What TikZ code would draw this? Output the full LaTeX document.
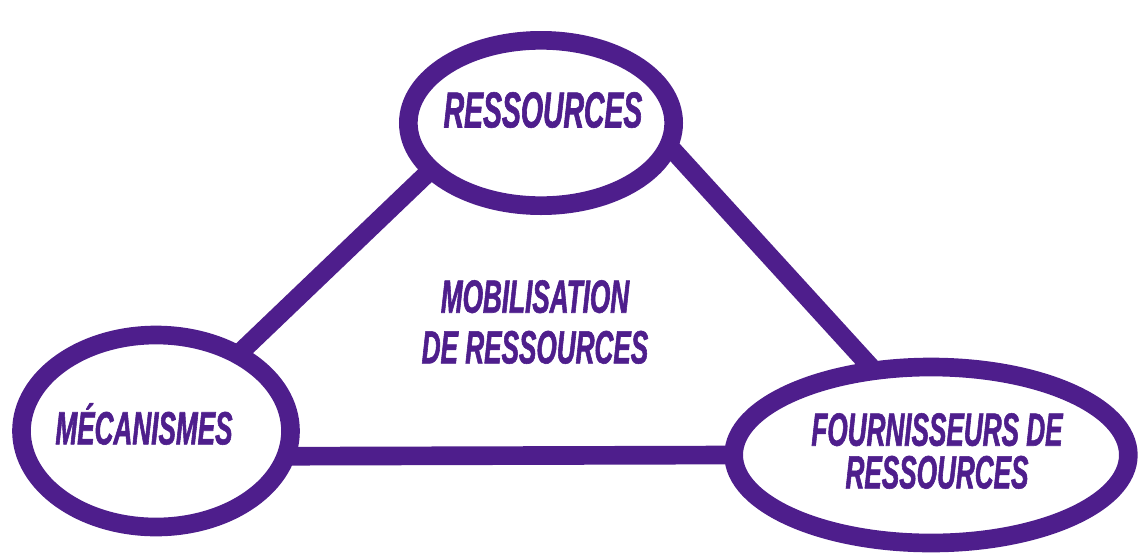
\documentclass[tikz,border=0pt]{standalone}
\usepackage{fontspec}
\setmainfont[FakeStretch=0.56,BoldItalicFeatures={FakeBold=1.2}]{Liberation Sans}
\usetikzlibrary{shapes.geometric}
\definecolor{purp}{RGB}{78,30,140}
\begin{document}
\begin{tikzpicture}[x=0.75pt,y=-0.75pt,
  bubble/.style={ellipse,draw=purp,line width=14pt,outer sep=0pt,inner sep=0pt},
  link/.style={draw=purp,line width=14pt},
  lbl/.style={text=purp,font=\bfseries\itshape\fontsize{35}{38}\selectfont,align=center,inner sep=0pt}]
\useasboundingbox (0,0) rectangle (1139,554);
\node[bubble,minimum width=199pt,minimum height=124pt] (top) at (541,123) {};
\node[bubble,minimum width=201.75pt,minimum height=144pt] (left) at (156,431) {};
\node[bubble,minimum width=296pt,minimum height=132pt] (right) at (931,455) {};
\draw[link] (top.203) -- (left.43);
\draw[link] (top.-10) -- (right.124);
\draw[link] (left.-11) -- (right.180);
\node[lbl,font=\bfseries\itshape\fontsize{38}{42}\selectfont] (ttop) at (543,110) {RESSOURCES};
\node[lbl] (tleft) at (144,424) {MÉCANISMES};
\node[lbl] (tright) at (937,451) {FOURNISSEURS DE\\[-6pt]RESSOURCES};
\node[lbl] (tmid) at (535,322) {MOBILISATION\\[0pt]DE RESSOURCES};
\end{tikzpicture}
\end{document}
